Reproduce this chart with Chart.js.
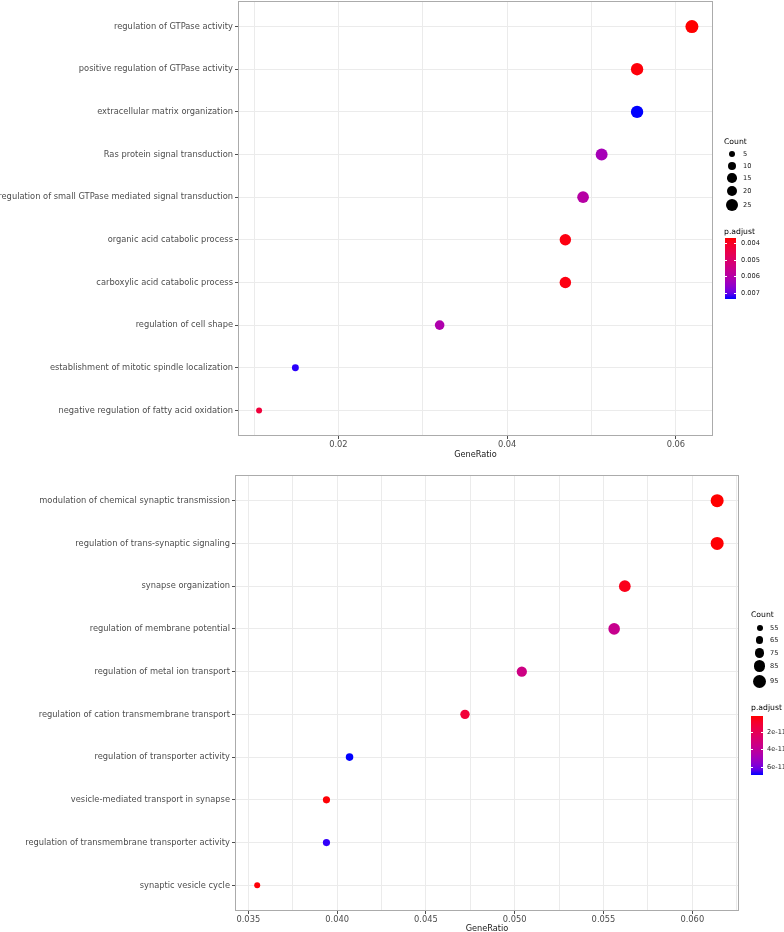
<!DOCTYPE html>
<html>
<head>
<meta charset="utf-8">
<script src="https://cdn.jsdelivr.net/npm/chart.js@4.4.0/dist/chart.umd.min.js"></script>
<style>
  body { margin: 0; background: #fff; width: 784px; height: 932px; overflow: hidden; position: relative; font-family: "DejaVu Sans", sans-serif; }
  canvas { position: absolute; left: 0; }
  #dotTop { top: 0; }
  #dotBottom { top: 462px; }
  .lg { position: absolute; line-height: 1; white-space: nowrap; transform: translateY(-50%); color: #000; }
  .lgTitle { font-size: 7.7px; }
  .lgText { font-size: 6.6px; color: #1a1a1a; }
  .dot { position: absolute; background: #000; border-radius: 50%; }
  .bar { position: absolute; }
  .barTick { position: absolute; background: #fff; height: 1px; }
</style>
</head>
<body>
<canvas id="dotTop" width="784" height="462"></canvas>
<canvas id="dotBottom" width="784" height="475"></canvas>
<div id="legends"></div>
<script>
// top panel
var topTerms = ["regulation of GTPase activity", "positive regulation of GTPase activity", "extracellular matrix organization",
  "Ras protein signal transduction", "regulation of small GTPase mediated signal transduction", "organic acid catabolic process",
  "carboxylic acid catabolic process", "regulation of cell shape", "establishment of mitotic spindle localization",
  "negative regulation of fatty acid oxidation"];
var topRatio = [0.0619, 0.0554, 0.0554, 0.0512, 0.0490, 0.0469, 0.0469, 0.0320, 0.0149, 0.0106];
var topCount = [29, 26, 26, 24, 23, 22, 22, 15, 7, 5];
var topPadj = [0.00370, 0.00376, 0.00736, 0.00626, 0.00597, 0.00380, 0.00380, 0.00610, 0.00730, 0.00430];
var topXTicks = [0.02, 0.04, 0.06];
var topXTickLabels = ["0.02", "0.04", "0.06"];
var topXMinor = [0.01, 0.03, 0.05];
var topCountBreaks = [5, 10, 15, 20, 25];
var topPadjBreaks = [0.004, 0.005, 0.006, 0.007];
var topPadjLabels = ["0.004", "0.005", "0.006", "0.007"];

// bottom panel
var botTerms = ["modulation of chemical synaptic transmission", "regulation of trans-synaptic signaling", "synapse organization",
  "regulation of membrane potential", "regulation of metal ion transport", "regulation of cation transmembrane transport",
  "regulation of transporter activity", "vesicle-mediated transport in synapse",
  "regulation of transmembrane transporter activity", "synaptic vesicle cycle"];
var botRatio = [0.0614, 0.0614, 0.0562, 0.0556, 0.0504, 0.0472, 0.0407, 0.0394, 0.0394, 0.0355];
var botCount = [95, 95, 87, 86, 78, 73, 63, 61, 61, 55];
var botPadj = [1.7e-12, 2.0e-12, 5.0e-12, 3.7e-11, 3.4e-11, 1.2e-11, 6.95e-11, 2.2e-12, 6.8e-11, 2.5e-12];
var botXTicks = [0.035, 0.040, 0.045, 0.050, 0.055, 0.060];
var botXTickLabels = ["0.035", "0.040", "0.045", "0.050", "0.055", "0.060"];
var botXMinor = [0.0375, 0.0425, 0.0475, 0.0525, 0.0575, 0.0625];
var botCountBreaks = [55, 65, 75, 85, 95];
var botPadjBreaks = [2e-11, 4e-11, 6e-11];
var botPadjLabels = ["2e-11", "4e-11", "6e-11"];

var FONT = "DejaVu Sans";

// red -> blue gradient in Lab space (like ggplot)
function toLin(c) { c /= 255; return c <= 0.04045 ? c / 12.92 : Math.pow((c + 0.055) / 1.055, 2.4); }
function fromLin(c) {
  c = c <= 0.0031308 ? 12.92 * c : 1.055 * Math.pow(Math.max(c, 0), 1 / 2.4) - 0.055;
  return Math.round(Math.max(0, Math.min(1, c)) * 255);
}
function rgbToLab(r, g, b) {
  r = toLin(r); g = toLin(g); b = toLin(b);
  var x = (r * 0.4124 + g * 0.3576 + b * 0.1805) / 0.95047;
  var y = r * 0.2126 + g * 0.7152 + b * 0.0722;
  var z = (r * 0.0193 + g * 0.1192 + b * 0.9505) / 1.08883;
  function f(t) { return t > 0.008856 ? Math.cbrt(t) : 7.787 * t + 16 / 116; }
  var fx = f(x), fy = f(y), fz = f(z);
  return [116 * fy - 16, 500 * (fx - fy), 200 * (fy - fz)];
}
function labToRgb(L, a, bb) {
  var fy = (L + 16) / 116, fx = fy + a / 500, fz = fy - bb / 200;
  function fi(t) { return t * t * t > 0.008856 ? t * t * t : (t - 16 / 116) / 7.787; }
  var x = fi(fx) * 0.95047, y = fi(fy), z = fi(fz) * 1.08883;
  var r = x * 3.2406 - y * 1.5372 - z * 0.4986;
  var g = -x * 0.9689 + y * 1.8758 + z * 0.0415;
  var b = x * 0.0557 - y * 0.2040 + z * 1.0570;
  return "rgb(" + fromLin(r) + "," + fromLin(g) + "," + fromLin(b) + ")";
}
var LOW = rgbToLab(255, 0, 0), HIGH = rgbToLab(0, 0, 255);
function gradColor(t) {
  t = Math.max(0, Math.min(1, t));
  return labToRgb(LOW[0] + t * (HIGH[0] - LOW[0]), LOW[1] + t * (HIGH[1] - LOW[1]), LOW[2] + t * (HIGH[2] - LOW[2]));
}
function padjColor(p, lim) { return gradColor((p - lim[0]) / (lim[1] - lim[0])); }

// dot diameter, area scale like ggplot scale_size
function dotSize(c, lim) {
  var t = (Math.sqrt(c) - Math.sqrt(lim[0])) / (Math.sqrt(lim[1]) - Math.sqrt(lim[0]));
  return 6 + 7 * t;
}

function isIn(v, arr) {
  for (var i = 0; i < arr.length; i++) if (Math.abs(arr[i] - v) < 1e-9) return i;
  return -1;
}

var panelBorder = {
  id: "panelBorder",
  afterDraw: function(chart) {
    var a = chart.chartArea, ctx = chart.ctx;
    ctx.save();
    ctx.strokeStyle = "#ababab";
    ctx.lineWidth = 1;
    ctx.strokeRect(Math.round(a.left) + 0.5, Math.round(a.top) + 0.5, Math.round(a.right - a.left) - 1, Math.round(a.bottom - a.top) - 1);
    ctx.restore();
  }
};

function dotChart(id, terms, ratio, count, padj, o) {
  var pts = ratio.map(function(r, i) { return { x: r, y: i }; });
  var grid = o.xMajor.concat(o.xMinor).filter(function(v) { return v >= o.xMin && v <= o.xMax; });
  return new Chart(document.getElementById(id), {
    type: "scatter",
    data: {
      datasets: [{
        data: pts,
        pointRadius: count.map(function(c) { return dotSize(c, o.countLim) / 2; }),
        pointHoverRadius: count.map(function(c) { return dotSize(c, o.countLim) / 2; }),
        pointBackgroundColor: padj.map(function(p) { return padjColor(p, o.padjLim); }),
        pointBorderWidth: 0
      }]
    },
    options: {
      responsive: false,
      animation: false,
      devicePixelRatio: 1,
      events: [],
      layout: { padding: o.padding, autoPadding: false },
      plugins: { legend: { display: false }, tooltip: { enabled: false } },
      scales: {
        x: {
          type: "linear", min: o.xMin, max: o.xMax,
          afterBuildTicks: function(s) { s.ticks = grid.map(function(v) { return { value: v }; }); },
          afterFit: function(s) { s.height = 26; s.paddingLeft = 0; s.paddingRight = 0; },
          ticks: {
            autoSkip: false, maxRotation: 0, padding: 1, color: "#4d4d4d",
            font: { family: FONT, size: 8.3 },
            callback: function(v) { var k = isIn(v, o.xMajor); return k < 0 ? "" : o.xLabels[k]; }
          },
          grid: {
            color: "#ebebeb", lineWidth: 1, tickLength: 3,
            tickColor: function(c) { return c.tick && isIn(c.tick.value, o.xMajor) >= 0 ? "#4d4d4d" : "rgba(0,0,0,0)"; }
          },
          border: { display: false },
          title: { display: true, text: "GeneRatio", color: "#1a1a1a", font: { family: FONT, size: 8.2 }, padding: { top: 0, bottom: o.titlePad } }
        },
        y: {
          type: "linear", reverse: true, min: -0.6, max: terms.length - 0.4,
          afterBuildTicks: function(s) { s.ticks = terms.map(function(t, i) { return { value: i }; }); },
          afterFit: function(s) { s.width = o.yWidth; s.paddingTop = 0; s.paddingBottom = 0; },
          ticks: {
            autoSkip: false, padding: 2, color: "#4d4d4d",
            font: { family: FONT, size: 8.3 },
            callback: function(v) { return terms[v]; }
          },
          grid: { color: "#ebebeb", lineWidth: 1, tickLength: 3, tickColor: "#4d4d4d" },
          border: { display: false }
        }
      }
    },
    plugins: [panelBorder]
  });
}

dotChart("dotTop", topTerms, topRatio, topCount, topPadj, {
  xMin: 0.0081, xMax: 0.0644, xMajor: topXTicks, xLabels: topXTickLabels, xMinor: topXMinor,
  countLim: [5, 29], padjLim: [0.0037, 0.00736],
  padding: { top: 1, right: 71, left: 0, bottom: 0 }, yWidth: 238, titlePad: 2
});
dotChart("dotBottom", botTerms, botRatio, botCount, botPadj, {
  xMin: 0.03425, xMax: 0.06263, xMajor: botXTicks, xLabels: botXTickLabels, xMinor: botXMinor,
  countLim: [55, 95], padjLim: [1.7e-12, 6.95e-11],
  padding: { top: 13, right: 45, left: 0, bottom: 0 }, yWidth: 235, titlePad: 3
});

// legends (size + colour bar)
function el(cls, css, text) {
  var d = document.createElement("div");
  d.className = cls;
  for (var k in css) d.style[k] = css[k];
  if (text) d.textContent = text;
  document.getElementById("legends").appendChild(d);
  return d;
}
function buildLegend(o) {
  el("lg lgTitle", { left: o.x + "px", top: o.countY + "px" }, "Count");
  o.countBreaks.forEach(function(c, i) {
    var d = dotSize(c, o.countLim);
    el("dot", { left: (o.dotX - d / 2) + "px", top: (o.itemY[i] - d / 2) + "px", width: d + "px", height: d + "px" });
    el("lg lgText", { left: o.textX + "px", top: o.itemY[i] + "px" }, String(c));
  });
  el("lg lgTitle", { left: o.x + "px", top: o.padjY + "px" }, "p.adjust");
  var stops = [];
  for (var i = 0; i <= 10; i++) stops.push(gradColor(i / 10) + " " + (i * 10) + "%");
  el("bar", { left: o.barX + "px", top: o.barTop + "px", width: o.barW + "px", height: o.barH + "px",
    background: "linear-gradient(to bottom," + stops.join(",") + ")" });
  o.padjBreaks.forEach(function(v, i) {
    var y = o.barTop + (v - o.padjLim[0]) / (o.padjLim[1] - o.padjLim[0]) * o.barH;
    el("barTick", { left: o.barX + "px", top: Math.round(y) + "px", width: "2px" });
    el("barTick", { left: (o.barX + o.barW - 2) + "px", top: Math.round(y) + "px", width: "2px" });
    el("lg lgText", { left: o.labX + "px", top: y + "px" }, o.padjLabels[i]);
  });
}
buildLegend({
  x: 724, countY: 142, countBreaks: topCountBreaks, countLim: [5, 29], dotX: 732, textX: 743,
  itemY: [154, 166, 178, 191, 205], padjY: 232, barX: 725, barTop: 238, barW: 11, barH: 61,
  padjBreaks: topPadjBreaks, padjLabels: topPadjLabels, padjLim: [0.0037, 0.00736], labX: 741
});
buildLegend({
  x: 751, countY: 615, countBreaks: botCountBreaks, countLim: [55, 95], dotX: 759.5, textX: 770,
  itemY: [628, 640, 653, 666, 681], padjY: 708, barX: 751, barTop: 716, barW: 12, barH: 59,
  padjBreaks: botPadjBreaks, padjLabels: botPadjLabels, padjLim: [1.7e-12, 6.95e-11], labX: 767
});
</script>
</body>
</html>
